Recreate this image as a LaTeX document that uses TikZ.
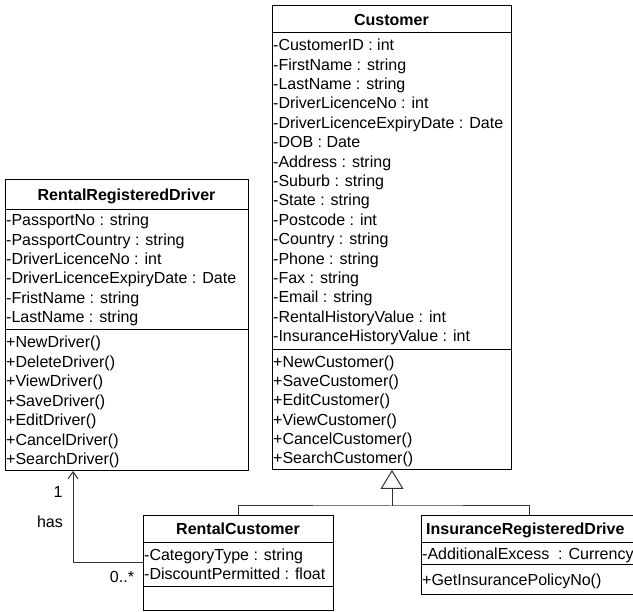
\documentclass[tikz,border=0pt]{standalone}
\usepackage{fontspec}
\setmainfont{Liberation Sans}
\usetikzlibrary{arrows.meta,calc}
\begin{document}
\begin{tikzpicture}[x=1pt,y=-1pt,
  box/.style={draw=black, line width=1pt, inner sep=0pt, anchor=north west},
  txt/.style={font=\fontsize{16}{19.4}\selectfont, inner sep=0pt, anchor=base west},
  ttl/.style={font=\fontsize{16}{19.4}\selectfont\bfseries, inner sep=0pt, anchor=base},
  lbl/.style={font=\fontsize{16}{19.4}\selectfont, inner sep=0pt},
  conn/.style={draw=black!80, line width=1pt},
  sepline/.style={draw=black, line width=1pt}]
\clip (0,0) rectangle (633,612);

% ---------------- Customer ----------------
\node[box, minimum width=239pt, minimum height=464pt] (cust) at (272,5) {};
\node[ttl] (custT) at (391.5,25.7) {Customer};
\draw[sepline] ($(cust.north west)+(0,28)$) -- ($(cust.north east)+(0,28)$);
\foreach[count=\i] \t in {-CustomerID : int, -FirstName : string, -LastName : string,
  -DriverLicenceNo : int, -DriverLicenceExpiryDate : Date, -DOB : Date,
  -Address : string, -Suburb : string, -State : string, -Postcode : int,
  -Country : string, -Phone : string, -Fax : string, -Email : string,
  -RentalHistoryValue : int, -InsuranceHistoryValue : int}
  \node[txt] (custA\i) at (273,{50.7+19.4*(\i-1)}) {\t};
\draw[sepline] ($(cust.north west)+(0,345)$) -- ($(cust.north east)+(0,345)$);
\foreach[count=\i] \t in {+NewCustomer(), +SaveCustomer(), +EditCustomer(),
  +ViewCustomer(), +CancelCustomer(), +SearchCustomer()}
  \node[txt] (custM\i) at (273,{367.4+19.3*(\i-1)}) {\t};

% ---------------- RentalRegisteredDriver ----------------
\node[box, minimum width=243pt, minimum height=291pt] (rrd) at (5,179) {};
\node[ttl] (rrdT) at (126.5,200.7) {RentalRegisteredDriver};
\draw[sepline] ($(rrd.north west)+(0,31)$) -- ($(rrd.north east)+(0,31)$);
\foreach[count=\i] \t in {-PassportNo : string, -PassportCountry : string,
  -DriverLicenceNo : int, -DriverLicenceExpiryDate : Date,
  -FristName : string, -LastName : string}
  \node[txt] (rrdA\i) at (6,{225.7+19.35*(\i-1)}) {\t};
\draw[sepline] ($(rrd.north west)+(0,151)$) -- ($(rrd.north east)+(0,151)$);
\foreach[count=\i] \t in {+NewDriver(), +DeleteDriver(), +ViewDriver(),
  +SaveDriver(), +EditDriver(), +CancelDriver(), +SearchDriver()}
  \node[txt] (rrdM\i) at (6,{347.7+19.5*(\i-1)}) {\t};

% ---------------- RentalCustomer ----------------
\node[box, minimum width=190pt, minimum height=95pt] (rc) at (143,515) {};
\node[ttl] (rcT) at (238,534.7) {RentalCustomer};
\draw[sepline] ($(rc.north west)+(0,28)$) -- ($(rc.north east)+(0,28)$);
\node[txt] (rcA1) at (144,560.7) {-CategoryType : string};
\node[txt] (rcA2) at (144,580.0) {-DiscountPermitted : float};
\draw[sepline] ($(rc.north west)+(0,72)$) -- ($(rc.north east)+(0,72)$);

% ---------------- InsuranceRegisteredDriver ----------------
\node[box, minimum width=216pt, minimum height=79pt] (ird) at (421,515) {};
\node[txt, font=\fontsize{16}{19.4}\selectfont\bfseries] (irdT) at (426,534.7) {InsuranceRegisteredDrive};
\draw[sepline] ($(ird.north west)+(0,28)$) -- ($(ird.north east)+(0,28)$);
\node[txt] (irdA1) at (422,559.7) {-AdditionalExcess\ \ : Currency};
\draw[sepline] ($(ird.north west)+(0,50)$) -- ($(ird.north east)+(0,50)$);
\node[txt] (irdM1) at (422,585.2) {+GetInsurancePolicyNo()};

% ---------------- Generalization ----------------
\coordinate (hub) at ($(cust.south)+(0,36)$);
\draw[conn] (rc.north) |- (hub) -| (ird.north);
\draw[conn, -{Triangle[open, length=19pt, width=23pt]}] (hub) -- (cust.south);

% ---------------- Association ----------------
\draw[conn, -{Straight Barb[length=7pt, width=10pt]}] (rc.west) -| ($(rrd.south west)+(68,0)$);
\node[lbl] (mult1) at (58,492) {1};
\node[lbl] (has) at (50,522) {has};
\node[lbl] (mult0) at (122,577) {0..*};
\end{tikzpicture}
\end{document}
